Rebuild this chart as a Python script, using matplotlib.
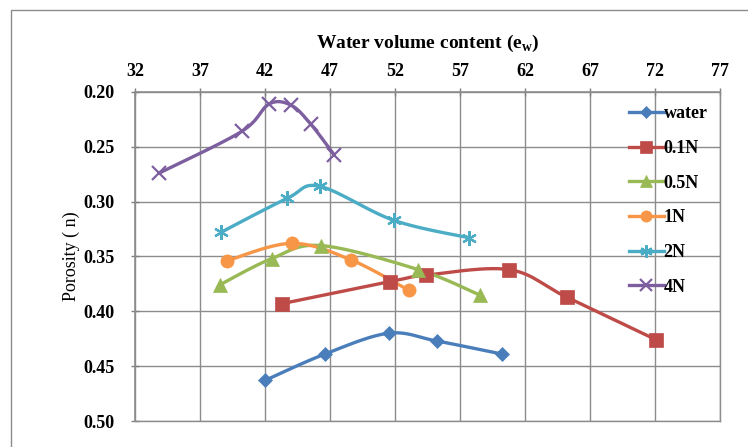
import numpy as np
import matplotlib
matplotlib.use("Agg")
import matplotlib.pyplot as plt
from matplotlib.patches import Rectangle

plt.rcParams['font.family'] = ['Liberation Serif', 'DejaVu Serif']

# Water volume content (x) and porosity (y) for each solution
water_x = [42.0, 46.6, 51.5, 55.2, 60.25]
water_y = [0.463, 0.439, 0.420, 0.427, 0.439]

n01_x = [43.3, 51.6, 54.4, 60.8, 65.2, 72.1]
n01_y = [0.393, 0.373, 0.367, 0.362, 0.387, 0.426]

n05_x = [38.5, 42.5, 46.3, 53.8, 58.5]
n05_y = [0.376, 0.352, 0.340, 0.362, 0.385]

n1_x = [39.05, 44.05, 48.6, 53.1]
n1_y = [0.354, 0.338, 0.353, 0.381]

n2_x = [38.6, 43.7, 46.2, 51.9, 57.7]
n2_y = [0.328, 0.297, 0.286, 0.317, 0.333]

n4_x = [33.85, 40.2, 42.3, 44.0, 45.5, 47.3]
n4_y = [0.274, 0.236, 0.211, 0.212, 0.229, 0.257]

labels = ["water", "0.1N", "0.5N", "1N", "2N", "4N"]
x_ticks = [32, 37, 42, 47, 52, 57, 62, 67, 72, 77]
y_ticks = [0.20, 0.25, 0.30, 0.35, 0.40, 0.45, 0.50]

series = [(water_x, water_y), (n01_x, n01_y), (n05_x, n05_y),
          (n1_x, n1_y), (n2_x, n2_y), (n4_x, n4_y)]
colors = ["#4A7EBB", "#BE4B48", "#98B954", "#F79646", "#4BACC6", "#7D5FA0"]
markers = ["D", "s", "^", "o", (6, 2, 0), "x"]
msizes = [7.5, 9.5, 9.5, 9.5, 10.5, 9.5]


def smooth(xs, ys, n=30):
    """Bezier smoothing through the points (Catmull-Rom style)."""
    p = np.column_stack([xs, ys]).astype(float)
    m = len(p)
    out = []
    for i in range(m - 1):
        p0 = p[i - 1] if i > 0 else p[i]
        p1 = p[i]
        p2 = p[i + 1]
        p3 = p[i + 2] if i + 2 < m else p[i + 1]
        c1 = p1 + (p2 - p0) / 6.0
        c2 = p2 - (p3 - p1) / 6.0
        t = np.linspace(0, 1, n)[:, None]
        seg = ((1 - t) ** 3) * p1 + 3 * ((1 - t) ** 2) * t * c1 \
            + 3 * (1 - t) * t ** 2 * c2 + t ** 3 * p2
        out.append(seg if i == 0 else seg[1:])
    s = np.vstack(out)
    return s[:, 0], s[:, 1]


fig = plt.figure(figsize=(7.48, 4.47), dpi=100)
fig.patch.set_facecolor("white")
fig.add_artist(Rectangle((11 / 748, -0.05), 1.2, 1 - 10 / 447 + 0.05,
                         transform=fig.transFigure, fill=False,
                         edgecolor="#8c8c8c", linewidth=1.0))

ax = fig.add_axes([135 / 748, 1 - 421 / 447, 585 / 748, 329 / 447])
ax.set_xlim(32, 77)
ax.set_ylim(0.50, 0.20)
ax.xaxis.tick_top()
ax.xaxis.set_label_position("top")
ax.set_xticks(x_ticks)
ax.set_yticks(y_ticks)
ax.set_xticklabels([str(v) for v in x_ticks])
ax.set_yticklabels([f"{v:.2f}" for v in y_ticks])
ax.tick_params(axis="both", labelsize=13, colors="#7f7f7f", direction="inout",
               length=6, width=1.0, labelcolor="black")
ax.tick_params(axis="y", pad=12)
ax.tick_params(axis="x", pad=6)
for lab in ax.get_xticklabels() + ax.get_yticklabels():
    lab.set_fontweight("bold")
ax.grid(True, color="#8c8c8c", linewidth=1.0)
ax.set_axisbelow(True)
for side in ["top", "left"]:
    ax.spines[side].set_color("#8c8c8c")
    ax.spines[side].set_linewidth(1.2)
for side in ["bottom", "right"]:
    ax.spines[side].set_color("#8c8c8c")
    ax.spines[side].set_linewidth(1.0)

ax.set_xlabel("Water volume content (e$_{\\mathregular{w}}$)", fontsize=14,
              fontweight="bold")
ax.xaxis.set_label_coords(0.5, 1 + 38 / 329, transform=ax.transAxes)
ax.xaxis.label.set_va("bottom")
ax.set_ylabel("Porosity ( n)", fontsize=13, labelpad=2)

handles = []
for (xs, ys), c, mk, ms, lab in zip(series, colors, markers, msizes, labels):
    sx, sy = smooth(xs, ys)
    ax.plot(sx, sy, color=c, linewidth=2.4, solid_capstyle="round", zorder=3)
    mew = 1.6 if mk in ("x", (6, 2, 0)) else 0.5
    ax.plot(xs, ys, linestyle="none", marker=mk, markersize=ms, color=c,
            markeredgecolor=c, markeredgewidth=mew, zorder=4)
    h, = ax.plot([], [], color=c, linewidth=2.4, marker=mk, markersize=ms * 0.85,
                 markeredgecolor=c, markeredgewidth=mew)
    handles.append(h)

leg = ax.legend(handles, labels, loc="upper left",
                bbox_to_anchor=(622 / 748, 1 - 98 / 447),
                bbox_transform=fig.transFigure, frameon=False,
                fontsize=13, handlelength=1.9, handletextpad=0.0,
                labelspacing=0.98, borderaxespad=0)
for t in leg.get_texts():
    t.set_fontweight("bold")

fig.savefig("out.png", dpi=100, facecolor="white")
